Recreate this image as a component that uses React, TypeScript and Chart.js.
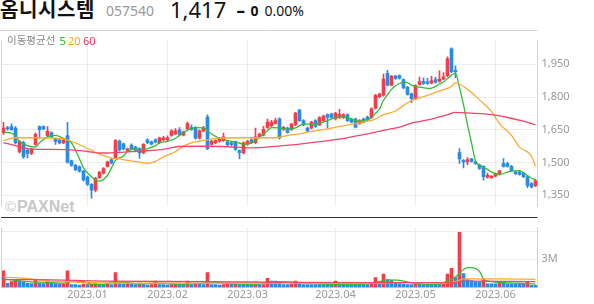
import React, { useEffect, useRef } from 'react';
import { Chart, registerables } from 'chart.js';
Chart.register(...registerables);

// ---- trading days (categories) ----
const decDays = [1,2,5,6,7,8,9,12,13,14,15,16,19,20,21,22,23,26,27,28,29];
const janDays = [2,3,4,5,6,9,10,11,12,13,16,17,18,19,20,25,26,27,30,31];
const febDays = [1,2,3,6,7,8,9,10,13,14,15,16,17,20,21,22,23,24,27,28];
const marDays = [2,3,6,7,8,9,10,13,14,15,16,17,20,21,22,23,24,27,28,29,30,31];
const aprDays = [3,4,5,6,7,10,11,12,13,14,17,18,19,20,21,24,25,26,27,28];
const mayDays = [2,3,4,8,9,10,11,12,15,16,17,18,19,22,23,24,25,26,30,31];
const junDays = [1,2,5,7,8,9,12,13,14,15,16];
const monthList: [string, number[]][] = [
  ['2022.12', decDays], ['2023.01', janDays], ['2023.02', febDays], ['2023.03', marDays],
  ['2023.04', aprDays], ['2023.05', mayDays], ['2023.06', junDays],
];
const monthTickLabels = ['2023.01', '2023.02', '2023.03', '2023.04', '2023.05', '2023.06'];

// ---- OHLC ----
const openP = [1636,1660,1664,1658,1548,1592,1555,1541,1582,1664,1664,1623,1636,1609,1602,1589,1623,1507,1487,1480,1460,
  1433,1399,1373,1430,1450,1482,1513,1522,1598,1585,1553,1579,1570,1563,1543,1604,1594,1604,1590,
  1604,1604,1624,1631,1650,1625,1654,1660,1660,1611,1645,1708,1583,1590,1597,1600,1594,1590,1594,1554,
  1543,1583,1604,1590,1615,1625,1660,1668,1679,1700,1651,1658,1651,1672,1740,1692,1658,1658,1692,1672,1692,1719,
  1722,1699,1706,1706,1719,1699,1699,1678,1699,1708,1706,1749,1801,1808,1909,1855,1896,1898,1880,1845,
  1815,1792,1858,1872,1870,1864,1880,1872,1882,1898,2021,1923,1545,1509,1502,1516,1502,1489,1482,1431,
  1430,1437,1445,1495,1495,1482,1455,1455,1450,1434,1403,1393];
const highP = [1684,1666,1677,1664,1600,1597,1560,1565,1634,1668,1668,1664,1640,1612,1606,1606,1684,1511,1491,1484,1464,
  1437,1403,1432,1458,1476,1506,1518,1605,1602,1589,1566,1585,1574,1567,1586,1608,1598,1608,1616,
  1620,1622,1650,1655,1660,1644,1685,1672,1664,1649,1665,1718,1601,1604,1615,1635,1598,1594,1598,1558,
  1594,1601,1608,1658,1634,1665,1699,1693,1703,1705,1665,1662,1680,1730,1744,1696,1662,1689,1696,1710,1717,1723,
  1726,1730,1744,1723,1723,1703,1703,1696,1703,1712,1750,1812,1818,1905,1923,1900,1900,1902,1884,1849,
  1818,1856,1892,1888,1886,1895,1890,1920,1912,1984,2026,1943,1563,1513,1522,1519,1505,1492,1485,1451,
  1440,1451,1464,1518,1500,1486,1459,1459,1454,1438,1407,1420];
const lowP = [1628,1648,1647,1585,1543,1518,1521,1536,1578,1609,1650,1616,1612,1582,1585,1586,1496,1482,1462,1455,1414,
  1394,1336,1365,1426,1446,1478,1493,1518,1552,1558,1549,1558,1549,1518,1540,1586,1580,1589,1586,
  1600,1600,1620,1627,1624,1621,1650,1647,1607,1607,1641,1558,1579,1586,1593,1596,1577,1577,1555,1516,
  1539,1579,1586,1586,1611,1621,1656,1664,1675,1608,1647,1634,1647,1668,1688,1668,1640,1654,1661,1668,1688,1658,
  1702,1695,1702,1702,1688,1681,1658,1674,1681,1691,1702,1745,1797,1804,1851,1851,1881,1882,1838,1808,
  1774,1788,1854,1858,1858,1860,1864,1868,1878,1894,1912,1889,1495,1475,1489,1501,1491,1468,1418,1427,
  1426,1433,1441,1478,1478,1457,1444,1441,1430,1384,1383,1389];
const closeP = [1657,1654,1650,1590,1595,1525,1541,1562,1630,1650,1655,1643,1616,1596,1589,1602,1501,1487,1467,1460,1419,
  1399,1372,1427,1455,1472,1502,1497,1600,1557,1562,1562,1563,1556,1543,1583,1590,1584,1593,1613,
  1613,1613,1645,1645,1628,1640,1678,1651,1611,1645,1658,1563,1597,1600,1611,1617,1581,1581,1559,1545,
  1590,1597,1590,1617,1630,1652,1685,1685,1692,1612,1661,1638,1676,1726,1692,1672,1645,1685,1665,1706,1713,1706,
  1706,1726,1719,1719,1692,1685,1662,1692,1685,1695,1746,1808,1814,1882,1855,1896,1885,1886,1842,1812,
  1792,1852,1871,1862,1862,1876,1868,1882,1893,1975,1916,1916,1516,1502,1513,1505,1495,1472,1434,1441,
  1437,1448,1461,1482,1482,1461,1448,1445,1434,1393,1387,1417];

// ---- volume (millions of shares) ----
const volM = [1.76,0.42,0.6,0.73,0.7,0.55,0.42,0.4,0.79,0.42,0.4,0.6,0.42,0.4,0.35,0.38,1.76,0.3,0.3,0.25,0.35,
  0.3,0.32,0.4,0.3,0.3,0.32,0.3,1.58,0.4,0.35,0.4,0.35,0.3,0.35,0.3,0.25,0.3,0.67,0.3,
  0.3,0.25,0.3,0.32,0.3,0.3,0.67,0.3,0.4,0.35,0.3,1.58,0.3,0.3,0.25,0.3,0.4,0.35,0.4,0.3,
  0.3,0.25,0.2,0.3,0.25,0.3,0.97,0.67,0.67,0.5,0.3,0.3,0.35,0.67,0.5,0.3,0.3,0.3,0.3,0.3,0.3,0.3,
  0.3,0.67,0.3,0.3,0.3,0.3,0.3,0.3,0.3,0.3,0.4,1.03,0.6,1.42,0.82,0.73,0.5,0.4,0.35,0.3,
  0.3,0.5,0.4,0.3,0.3,0.3,0.3,0.3,0.35,1.42,2.03,1.03,5.88,1.48,0.82,0.73,0.6,0.58,0.82,0.36,
  0.36,0.36,0.6,0.6,0.36,0.36,0.36,0.36,0.36,0.6,0.22,0.2];

// ---- moving averages: [dayIndex, value] ----
const ma5Pts = [[0,1635],[1,1638],[3,1622],[4,1597],[6,1577],[8,1570],[9,1590],[11,1617],[13,1624],[15,1610],[17,1590],[18,1556],[19,1516],[20,1475],[22,1434],[23,1420],[24,1414],[26,1441],[27,1475],[28,1509],[30,1529],[31,1550],[33,1563],[34,1554],[36,1563],[38,1577],[39,1590],[41,1597],[43,1611],[44,1624],[46,1648],[48,1660],[50,1658],[52,1630],[54,1611],[56,1600],[58,1594],[60,1584],[62,1590],[64,1615],[66,1645],[67,1660],[69,1658],[71,1651],[73,1658],[75,1676],[78,1676],[80,1685],[81,1692],[83,1706],[85,1709],[86,1706],[88,1692],[89,1689],[90,1692],[92,1705],[93,1725],[94,1745],[95,1785],[96,1810],[97,1835],[98,1852],[99,1862],[100,1868],[101,1866],[102,1855],[104,1845],[106,1840],[107,1841],[109,1860],[110,1869],[111,1885],[112,1900],[113,1910],[114,1843],[115,1765],[116,1673],[117,1590],[118,1506],[119,1488],[121,1468],[122,1455],[124,1445],[126,1455],[127,1461],[129,1462],[130,1452],[131,1440],[132,1427],[133,1420]];
const ma20Pts = [[0,1600],[3,1613],[8,1613],[13,1611],[15,1608],[17,1597],[19,1581],[22,1556],[24,1538],[27,1520],[29,1516],[31,1509],[34,1502],[36,1496],[38,1505],[40,1525],[43,1550],[45,1575],[47,1590],[49,1597],[54,1611],[60,1613],[68,1613],[71,1624],[74,1631],[78,1645],[81,1654],[84,1665],[88,1678],[90,1685],[93,1699],[95,1719],[98,1736],[101,1774],[103,1790],[107,1814],[109,1828],[112,1848],[113,1866],[114,1860],[117,1821],[119,1787],[122,1733],[124,1678],[127,1624],[129,1570],[132,1529],[133,1482]];
const ma60Pts = [[0,1590],[3,1577],[6,1563],[9,1560],[16,1559],[21,1550],[24,1543],[28,1545],[31,1548],[34,1552],[38,1556],[41,1563],[44,1573],[49,1574],[55,1573],[62,1567],[66,1570],[70,1577],[74,1584],[78,1593],[83,1604],[87,1617],[91,1631],[95,1647],[99,1662],[102,1680],[107,1699],[111,1719],[113,1730],[117,1726],[122,1719],[126,1706],[130,1689],[133,1672]];
const vma5Pts = [[0,0.9],[3,0.75],[6,0.6],[9,0.55],[12,0.5],[15,0.45],[17,0.7],[20,0.6],[22,0.35],[25,0.32],[28,0.55],[31,0.5],[34,0.35],[38,0.42],[41,0.4],[44,0.3],[47,0.4],[50,0.45],[52,0.55],[55,0.45],[58,0.35],[62,0.3],[66,0.45],[69,0.6],[72,0.55],[76,0.45],[80,0.35],[84,0.3],[88,0.3],[93,0.5],[96,0.8],[99,0.75],[102,0.5],[106,0.3],[109,0.35],[111,0.7],[113,1.1],[115,1.9],[116,2.1],[117,2.1],[119,1.7],[120,0.9],[122,0.6],[125,0.5],[128,0.45],[131,0.4],[133,0.35]];
const vma20Pts = [[0,1.1],[5,0.97],[12,0.67],[22,0.5],[35,0.45],[50,0.45],[60,0.45],[75,0.45],[90,0.42],[100,0.5],[110,0.45],[113,0.6],[115,0.9],[125,0.9],[133,0.85]];
const vma60Pts = [[0,0.82],[8,0.82],[25,0.67],[50,0.6],[75,0.52],[100,0.5],[113,0.5],[115,0.67],[133,0.6]];

const priceTicks = [1350, 1500, 1650, 1800, 1950];
const volTicks = [3, 6];

const RED = '#f43d4b';
const BLUE = '#2a8be5';
const C5 = '#33bb33';
const C20 = '#ffa933';
const C60 = '#f2456a';
const GRID = '#ececec';
const FRAME = '#d2d2d2';
const FONT = "'Noto Sans', sans-serif";
const CJK = "'Noto Sans CJK KR', sans-serif";

const labels: string[] = monthList.flatMap(([m, days]) => days.map(d => `${m}.${String(d).padStart(2, '0')}`));
const N = labels.length;
const tickLabelAt: string[] = labels.map((l, i) => {
  const m = l.slice(0, 7);
  const prev = i > 0 ? labels[i - 1].slice(0, 7) : '';
  return m !== prev && monthTickLabels.includes(m) ? m : '';
});
const full = (pts: number[][]) => {
  const a: (number | null)[] = new Array(N).fill(null);
  pts.forEach(([i, v]) => { a[i] = v; });
  return a;
};

const gridX = (ctx: any) => (tickLabelAt[ctx.index] ? GRID : 'rgba(0,0,0,0)');

const framePlugin = (dark: boolean) => ({
  id: 'frame' + (dark ? 'V' : 'P'),
  afterDraw(chart: any) {
    const { ctx, chartArea: a } = chart;
    ctx.save();
    ctx.lineWidth = 1;
    ctx.strokeStyle = FRAME;
    ctx.beginPath();
    ctx.moveTo(1.5, a.top);
    ctx.lineTo(1.5, a.bottom);
    if (!dark) { ctx.moveTo(0, 0.5); ctx.lineTo(a.right, 0.5); }
    ctx.stroke();
    if (dark) {
      ctx.strokeStyle = '#333';
      ctx.beginPath();
      ctx.moveTo(1, 0.5);
      ctx.lineTo(a.right, 0.5);
      ctx.stroke();
    }
    ctx.restore();
  },
});

const lineDs = (data: (number | null)[], color: string) => ({
  type: 'line' as const,
  data,
  borderColor: color,
  borderWidth: 1.3,
  pointRadius: 0,
  spanGaps: true,
  tension: 0.4,
  cubicInterpolationMode: 'monotone' as const,
  order: 0,
});

export default function App() {
  const priceRef = useRef<HTMLCanvasElement>(null);
  const volRef = useRef<HTMLCanvasElement>(null);

  useEffect(() => {
    Chart.defaults.font.family = FONT;
    const candleColor = closeP.map((c, i) => (c >= openP[i] ? RED : BLUE));
    const volColor = volM.map((v, i) => (i === 0 || v > volM[i - 1] ? RED : BLUE));

    const price = new Chart(priceRef.current!, {
      type: 'bar',
      data: {
        labels,
        datasets: [
          lineDs(full(ma60Pts), C60),
          lineDs(full(ma20Pts), C20),
          lineDs(full(ma5Pts), C5),
          { type: 'bar', data: openP.map((o, i) => [o, closeP[i]]), backgroundColor: candleColor, barThickness: 3, grouped: false, minBarLength: 1, order: 1 } as any,
          { type: 'bar', data: lowP.map((l, i) => [l, highP[i]]), backgroundColor: candleColor, barThickness: 1, grouped: false, order: 2 } as any,
        ],
      },
      options: {
        animation: false,
        responsive: false,
        events: [],
        layout: { padding: { left: 1.5, right: 0, top: 0, bottom: 0 } },
        plugins: { legend: { display: false }, tooltip: { enabled: false } },
        scales: {
          x: {
            offset: true,
            grid: { color: gridX, offset: false, drawTicks: false },
            border: { display: false },
            ticks: { display: false, autoSkip: false },
            afterFit: (s: any) => { s.height = 0; },
          },
          y: {
            position: 'right',
            min: 1298,
            max: 2059,
            afterBuildTicks: (s: any) => { s.ticks = priceTicks.map(v => ({ value: v })); },
            afterFit: (s: any) => { s.width = 56.5; },
            ticks: { color: '#9a9a9a', font: { size: 11, family: FONT }, padding: 4, callback: (v: any) => Number(v).toLocaleString('en-US') },
            grid: { color: GRID, drawTicks: false },
            border: { display: true, color: FRAME },
          },
        },
      } as any,
      plugins: [framePlugin(false)],
    });

    const vol = new Chart(volRef.current!, {
      type: 'bar',
      data: {
        labels,
        datasets: [
          lineDs(full(vma60Pts), C60),
          lineDs(full(vma20Pts), C20),
          lineDs(full(vma5Pts), C5),
          { type: 'bar', data: volM, backgroundColor: volColor, barThickness: 3, order: 1 } as any,
        ],
      },
      options: {
        animation: false,
        responsive: false,
        events: [],
        layout: { padding: { left: 1.5, right: 0, top: 0, bottom: 0 } },
        plugins: { legend: { display: false }, tooltip: { enabled: false } },
        scales: {
          x: {
            offset: true,
            grid: { color: gridX, offset: false, drawTicks: false },
            border: { display: true, color: FRAME },
            ticks: { autoSkip: false, maxRotation: 0, color: '#9a9a9a', font: { size: 11, family: FONT }, padding: 1, callback: (_v: any, i: number) => tickLabelAt[i] },
            afterFit: (s: any) => { s.height = 16.7; },
          },
          y: {
            position: 'right',
            min: 0,
            max: 6.4,
            afterBuildTicks: (s: any) => { s.ticks = volTicks.map(v => ({ value: v })); },
            afterFit: (s: any) => { s.width = 56.5; },
            ticks: { color: '#9a9a9a', font: { size: 11, family: FONT }, padding: 4, callback: (v: any) => (v === 3 ? '3M' : '') },
            grid: { color: GRID, drawTicks: false },
            border: { display: true, color: FRAME },
          },
        },
      } as any,
      plugins: [framePlugin(true)],
    });

    return () => { price.destroy(); vol.destroy(); };
  }, []);

  const abs = (s: React.CSSProperties): React.CSSProperties => ({ position: 'absolute', lineHeight: 1, whiteSpace: 'nowrap', ...s });

  return (
    <div style={{ position: 'absolute', left: 0, top: 0, width: 594, height: 304, background: '#fff', overflow: 'hidden' }}>
      <span style={abs({ left: 0, top: -1.5, fontFamily: CJK, fontSize: 20, fontWeight: 700, letterSpacing: 0.6, color: '#111' })}>옴니시스템</span>
      <span style={abs({ left: 106, top: 3.5, fontFamily: FONT, fontSize: 14, color: '#999' })}>057540</span>
      <span style={abs({ left: 170, top: -2.2, fontFamily: FONT, fontSize: 22, color: '#111' })}>1,417</span>
      <span style={abs({ left: 236.5, top: 1.5, fontFamily: FONT, fontSize: 17, fontWeight: 800, color: '#111' })}>–</span>
      <span style={abs({ left: 250.5, top: 4.3, fontFamily: FONT, fontSize: 14, fontWeight: 700, color: '#111' })}>0</span>
      <span style={abs({ left: 264.5, top: 4.3, fontFamily: FONT, fontSize: 14, color: '#111' })}>0.00%</span>

      <div style={abs({ left: 5, top: 199, color: '#c8c8c8', fontFamily: "'Liberation Sans', sans-serif" })}>
        <span style={{ fontSize: 15 }}>©</span>
        <span style={{ fontSize: 16, fontWeight: 700, marginLeft: 1 }}>PAXNet</span>
      </div>

      <canvas ref={priceRef} width={594} height={187} style={{ position: 'absolute', left: 0, top: 30, width: 594, height: 187 }} />
      <canvas ref={volRef} width={594} height={87} style={{ position: 'absolute', left: 0, top: 217, width: 594, height: 87 }} />

      <span style={abs({ left: 7, top: 34.7, fontFamily: CJK, fontSize: 10.5, color: '#888' })}>이동평균선</span>
      <span style={abs({ left: 59.5, top: 35.2, fontFamily: FONT, fontSize: 11, color: '#22bb22' })}>5</span>
      <span style={abs({ left: 68, top: 35.2, fontFamily: FONT, fontSize: 11, color: '#ffa526' })}>20</span>
      <span style={abs({ left: 83, top: 35.2, fontFamily: FONT, fontSize: 11, color: '#ff2e63' })}>60</span>
    </div>
  );
}
